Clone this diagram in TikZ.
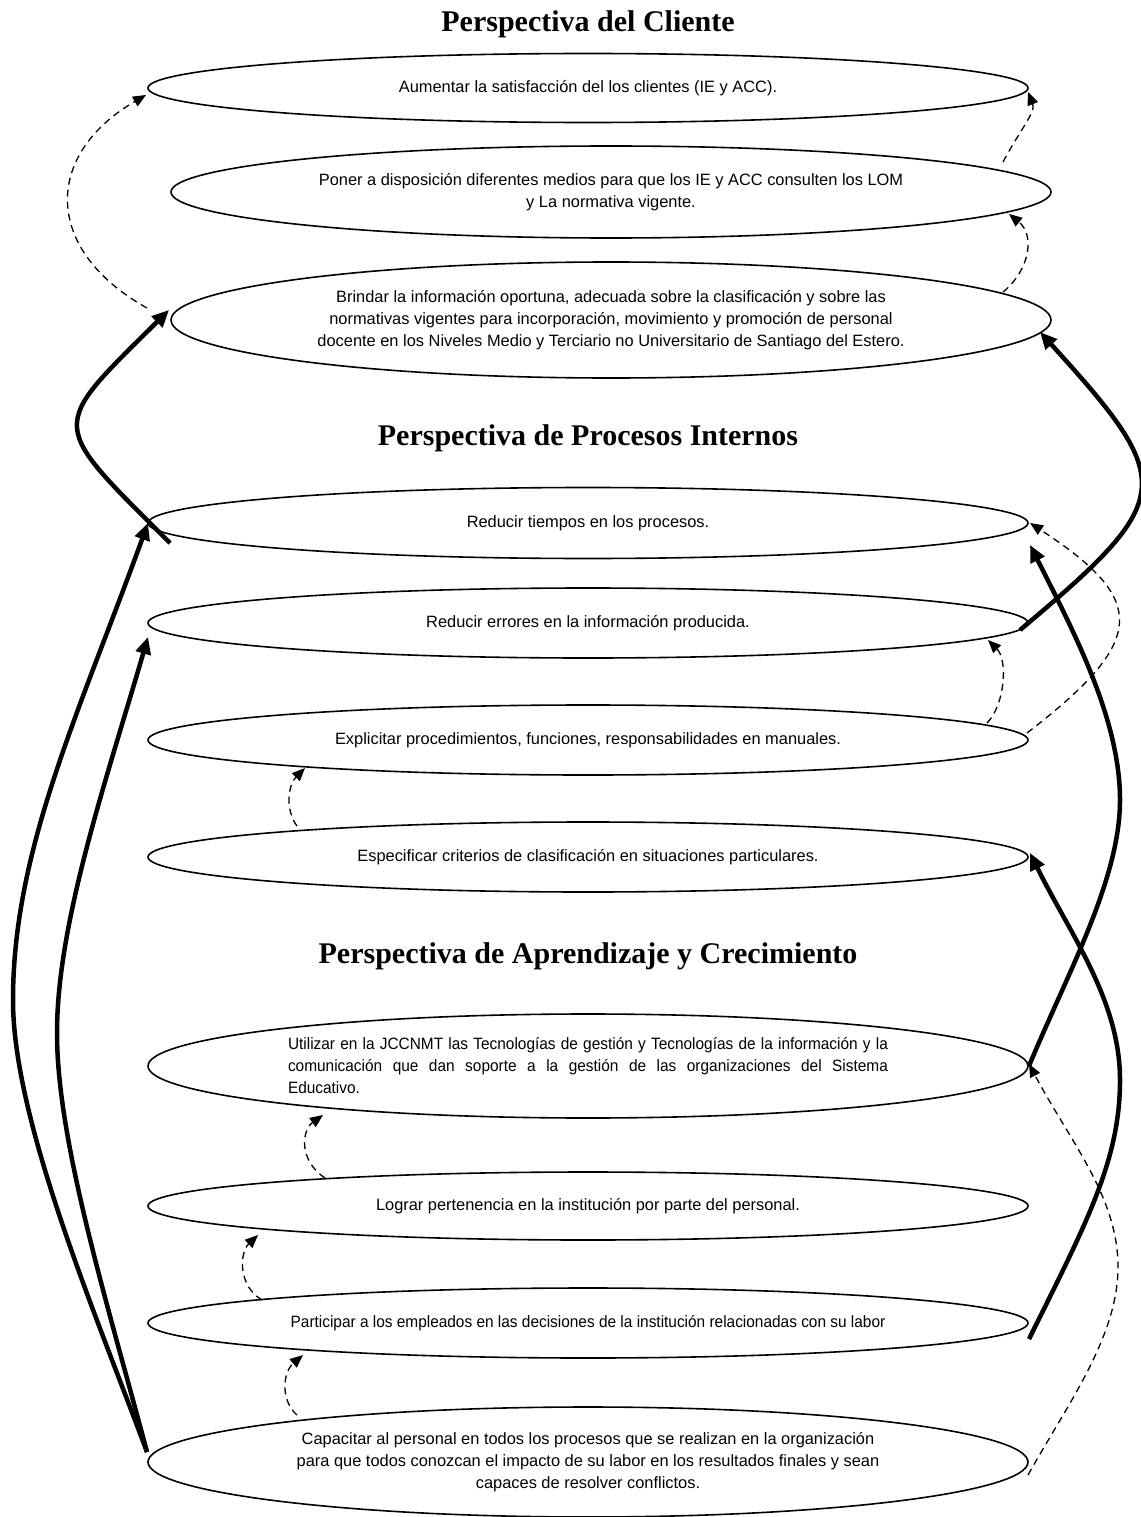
\documentclass[tikz,border=0pt]{standalone}
\usepackage{fontspec}
\setmainfont{Liberation Sans}
\newfontfamily\titlefont{Liberation Serif}
\newfontfamily\narrowsans{Liberation Sans}[FakeStretch=0.94]
\usetikzlibrary{arrows.meta,calc,shapes.geometric}

\begin{document}
\begin{tikzpicture}[x=1pt,y=-1pt,
  goal/.style={draw, ellipse, line width=1.6pt, inner sep=0pt, minimum width=880pt,
    font=\fontsize{16.4}{22}\selectfont, align=center},
  heading/.style={font=\titlefont\bfseries\fontsize{30}{36}\selectfont, anchor=base},
  soft/.style={line width=1.3pt, dash pattern=on 7pt off 5pt,
    -{Triangle[length=13pt,width=11pt]}},
  strong/.style={line width=4.5pt, -{Triangle[length=17pt,width=15pt]}}]

\useasboundingbox (0,0) rectangle (1140,1517);

% section headings
\node[heading] (h1) at (588,32) {Perspectiva del Cliente};
\node[heading] (h2) at (588,445) {Perspectiva de Procesos Internos};
\node[heading] (h3) at (588,963) {Perspectiva de Aprendizaje y Crecimiento};

% objectives
\node[goal, minimum height=69pt] (E1) at (588,88)
  {Aumentar la satisfacción del los clientes (IE y ACC).};
\node[goal, minimum height=92pt] (E2) at (611,192)
  {Poner a disposición diferentes medios para que los IE y ACC consulten los LOM\\
   y La normativa vigente.};
\node[goal, minimum height=116pt] (E3) at (611,320)
  {Brindar la información oportuna, adecuada sobre la clasificación y sobre las\\
   normativas vigentes para incorporación, movimiento y promoción de personal\\
   docente en los Niveles Medio y Terciario no Universitario de Santiago del Estero.};

\node[goal, minimum height=71pt] (E4) at (588,523) {Reducir tiempos en los procesos.};
\node[goal, minimum height=70pt] (E5) at (588,623) {Reducir errores en la información producida.};
\node[goal, minimum height=70pt] (E6) at (588,740)
  {Explicitar procedimientos, funciones, responsabilidades en manuales.};
\node[goal, minimum height=70pt] (E7) at (588,857)
  {Especificar criterios de clasificación en situaciones particulares.};

\node[goal, minimum height=104pt, text width=600pt, align=justify,
      font=\narrowsans\fontsize{16.4}{22}\selectfont] (E8) at (588,1066)
  {Utilizar en la JCCNMT las Tecnologías de gestión y Tecnologías de la información y la\linebreak
   comunicación que dan soporte a la gestión de las organizaciones del Sistema\linebreak
   Educativo.};
\node[goal, minimum height=68pt] (E9) at (588,1206)
  {Lograr pertenencia en la institución por parte del personal.};
\node[goal, minimum height=70pt] (E10) at (588,1323)
  {\narrowsans Participar a los empleados en las decisiones de la institución relacionadas con su labor};
\node[goal, minimum height=110pt] (E11) at (588,1462)
  {Capacitar al personal en todos los procesos que se realizan en la organización\\
   para que todos conozcan el impacto de su labor en los resultados finales y sean\\
   capaces de resolver conflictos.};

% dashed links
\draw[soft] ($(E3)+(-464,-12)$) .. controls (43,250) and (43,155) .. ($(E1)+(-442,7)$);
\draw[soft] ($(E2)+(392,-30)$) .. controls (1020,130) and (1036,112) .. ($(E1)+(440,4)$);
\draw[soft] ($(E3)+(392,-28)$) .. controls (1030,270) and (1035,235) .. ($(E2)+(398,22)$);
\draw[soft] ($(E6)+(399,-17)$) .. controls (1005,705) and (1008,660) .. ($(E5)+(400,17)$);
\draw[soft] ($(E6)+(439,-7)$) .. controls (1148,640) and (1148,600) .. ($(E4)+(442,0)$);
\draw[soft] ($(E7)+(-291,-31)$) .. controls (285,810) and (288,785) .. ($(E6)+(-283,28)$);
\draw[soft] ($(E9)+(-263,-28)$) .. controls (298,1160) and (302,1130) .. ($(E8)+(-265,49)$);
\draw[soft] ($(E10)+(-326,-23)$) .. controls (237,1285) and (240,1252) .. ($(E9)+(-330,29)$);
\draw[soft] ($(E11)+(-291,-47)$) .. controls (280,1400) and (283,1372) .. ($(E10)+(-285,32)$);
\draw[soft] ($(E11)+(440,13)$) .. controls (1067,1405) and (1118,1337) .. (1118,1267)
  .. controls (1118,1197) and (1071,1143) .. ($(E8)+(441,-2)$);

% solid links
\draw[strong] ($(E4)+(-418,20)$) .. controls (48,421) and (48,430) .. ($(E3)+(-442,-10)$);
\draw[strong] ($(E5)+(432,7)$) .. controls (1177,498) and (1177,483) .. ($(E3)+(429,12)$);
\draw[strong] ($(E11)+(-441,-10)$) .. controls (94.5,1311) and (13,1120) .. (13,1000)
  .. controls (13,850) and (79,713) .. ($(E4)+(-440,0)$);
\draw[strong] ($(E11)+(-441,-10)$) .. controls (108.6,1307) and (57,1143) .. (57,1033)
  .. controls (57,923) and (106,781) .. ($(E5)+(-440,14)$);
\draw[strong] ($(E10)+(441,16)$) .. controls (1087,1222) and (1120,1160) .. (1120,1080)
  .. controls (1120,1000) and (1070,934) .. ($(E7)+(442,-4)$);
\draw[strong] ($(E8)+(441,0)$) .. controls (1067,974) and (1120,880) .. (1120,800)
  .. controls (1120,720) and (1075,634) .. ($(E4)+(442,22)$);

\end{tikzpicture}
\end{document}
